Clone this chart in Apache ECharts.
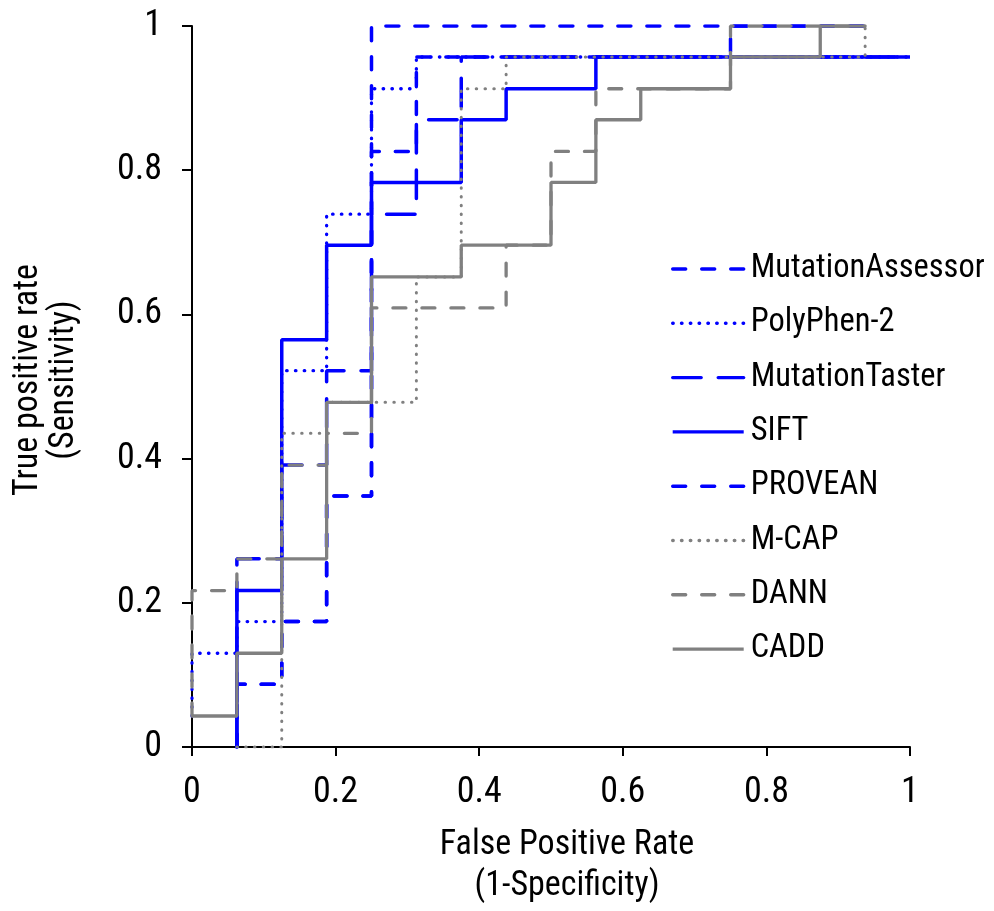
<!DOCTYPE html>
<html>
<head>
<meta charset="utf-8">
<script src="https://cdn.jsdelivr.net/npm/echarts@6/dist/echarts.min.js"></script>
<style>
  html, body { margin: 0; padding: 0; background: #fff; }
  #chart { width: 994px; height: 911px; }
</style>
</head>
<body>
<div id="chart"></div>
<script>
// ROC curves (fpr = x, tpr = y)
const seriesNames = ['MutationAssessor', 'PolyPhen-2', 'MutationTaster', 'SIFT', 'PROVEAN', 'M-CAP', 'DANN', 'CADD'];

const maFpr = [0.0625, 0.0625, 0.125, 0.125, 0.1875, 0.1875, 0.25, 0.25, 0.9375];
const maTpr = [0, 0.087, 0.087, 0.174, 0.174, 0.348, 0.348, 1, 1];

const ppFpr = [0, 0, 0.0625, 0.0625, 0.125, 0.125, 0.1875, 0.1875, 0.25, 0.25, 0.3125, 0.3125, 1];
const ppTpr = [0.043, 0.130, 0.130, 0.174, 0.174, 0.522, 0.522, 0.739, 0.739, 0.913, 0.913, 0.957, 0.957];

const mtFpr = [0.0625, 0.0625, 0.125, 0.125, 0.1875, 0.1875, 0.25, 0.25, 0.3125, 0.3125, 0.375, 0.375, 1];
const mtTpr = [0, 0.261, 0.261, 0.391, 0.391, 0.522, 0.522, 0.739, 0.739, 0.870, 0.870, 0.957, 0.957];

const siftFpr = [0.0625, 0.0625, 0.125, 0.125, 0.1875, 0.1875, 0.25, 0.25, 0.375, 0.375, 0.4375, 0.4375, 0.5625, 0.5625, 1];
const siftTpr = [0, 0.217, 0.217, 0.565, 0.565, 0.696, 0.696, 0.783, 0.783, 0.870, 0.870, 0.913, 0.913, 0.957, 0.957];

const provFpr = [0.0625, 0.0625, 0.125, 0.125, 0.1875, 0.1875, 0.25, 0.25, 0.3125, 0.3125, 0.75, 0.75, 0.9375];
const provTpr = [0, 0.087, 0.087, 0.174, 0.174, 0.348, 0.348, 0.826, 0.826, 0.957, 0.957, 1, 1];

const mcapFpr = [0.0625, 0.125, 0.125, 0.1875, 0.1875, 0.3125, 0.3125, 0.375, 0.375, 0.4375, 0.4375, 0.9375, 0.9375];
const mcapTpr = [0, 0, 0.435, 0.435, 0.478, 0.478, 0.652, 0.652, 0.913, 0.913, 0.957, 0.957, 1];

const dannFpr = [0, 0, 0.0625, 0.0625, 0.125, 0.125, 0.1875, 0.1875, 0.25, 0.25, 0.4375, 0.4375, 0.5, 0.5, 0.5625, 0.5625, 0.75, 0.75, 0.9375];
const dannTpr = [0.043, 0.217, 0.217, 0.261, 0.261, 0.391, 0.391, 0.435, 0.435, 0.609, 0.609, 0.696, 0.696, 0.826, 0.826, 0.913, 0.913, 1, 1];

const caddFpr = [0, 0.0625, 0.0625, 0.125, 0.125, 0.1875, 0.1875, 0.25, 0.25, 0.375, 0.375, 0.5, 0.5, 0.5625, 0.5625, 0.625, 0.625, 0.75, 0.75, 0.875, 0.875, 0.9375];
const caddTpr = [0.043, 0.043, 0.130, 0.130, 0.261, 0.261, 0.478, 0.478, 0.652, 0.652, 0.696, 0.696, 0.783, 0.783, 0.870, 0.870, 0.913, 0.913, 0.957, 0.957, 1, 1];

const BLUE = '#0000ff';
const GRAY = '#808080';

// the original uses a narrow font; take one if installed, else squeeze sizes
const ctx = document.createElement('canvas').getContext('2d');
function textWidth(font, s) { ctx.font = font; return ctx.measureText(s).width; }
function hasFont(name) {
  const s = 'MutationAssessor 0.8';
  return textWidth("72px '" + name + "', monospace", s) !== textWidth('72px monospace', s);
}
const narrow = ['Liberation Sans Narrow', 'Arial Narrow', 'Nimbus Sans Narrow', 'Roboto Condensed', 'Noto Sans Condensed', 'Open Sans Condensed'].find(hasFont);
const FONT = narrow ? "'" + narrow + "'" : "'Liberation Sans', Arial, sans-serif";
function fitSize(s, target, max) {
  const w = textWidth('100px ' + FONT, s) / 100;
  return Math.min(max, target / w);
}
const legendSize = fitSize('MutationAssessor', 234, 37);
const tickSize = Math.min(36, fitSize('0.8', 42, 36) * 1.08);
const titleSize = 35;
const titleScale = Math.min(1, 232 / textWidth(titleSize + 'px ' + FONT, 'True positive rate'));

function pts(xs, ys) {
  return xs.map((x, i) => [x, ys[i]]);
}

function line(name, xs, ys, color, dash, width) {
  return {
    name: name,
    type: 'line',
    data: pts(xs, ys),
    symbol: 'none',
    animation: false,
    lineStyle: { color: color, width: width, type: dash, cap: dash === 'solid' ? 'butt' : 'round' },
    itemStyle: { color: color }
  };
}

const DOT = [0.5, 8.3];
const DASH = [13, 16];
const LONG = [28.5, 17];

function title(text, x, y, rot) {
  return {
    type: 'text', x: x, y: y, rotation: rot, scaleX: titleScale,
    style: { text: text, font: titleSize + 'px ' + FONT, fill: '#000', align: 'center', verticalAlign: 'middle' }
  };
}

const chart = echarts.init(document.getElementById('chart'), null, { renderer: 'canvas' });

chart.setOption({
  backgroundColor: '#fff',
  animation: false,
  grid: { left: 192, right: 84, top: 26, bottom: 164 },
  legend: {
    orient: 'vertical',
    left: 671,
    top: 251,
    padding: 0,
    itemWidth: 71,
    itemHeight: 2,
    itemGap: 18.3,
    itemStyle: { opacity: 0 },
    lineStyle: { width: 3.4 },
    data: seriesNames,
    textStyle: { fontFamily: FONT, fontSize: legendSize, color: '#000', lineHeight: 36, padding: [0, 0, 0, 2] }
  },
  xAxis: {
    type: 'value',
    min: 0, max: 1, interval: 0.2,
    axisLine: { lineStyle: { color: '#000', width: 2 } },
    axisTick: { show: true, length: 9, lineStyle: { color: '#000', width: 2 } },
    splitLine: { show: false },
    axisLabel: {
      fontFamily: FONT, fontSize: tickSize, color: '#000', margin: 28,
      formatter: v => String(+v.toFixed(1))
    }
  },
  yAxis: {
    type: 'value',
    min: 0, max: 1, interval: 0.2,
    axisLine: { show: true, lineStyle: { color: '#000', width: 2 } },
    axisTick: { show: true, length: 10, lineStyle: { color: '#000', width: 2 } },
    splitLine: { show: false },
    axisLabel: {
      fontFamily: FONT, fontSize: tickSize, color: '#000', margin: 30,
      formatter: v => String(+v.toFixed(1))
    }
  },
  graphic: [
    title('True positive rate', 28, 380, Math.PI / 2),
    title('(Sensitivity)', 64, 380, Math.PI / 2),
    title('False Positive Rate', 567, 845, 0),
    title('(1-Specificity)', 567, 886, 0)
  ],
  series: [
    line('MutationAssessor', maFpr, maTpr, BLUE, DASH, 3.5),
    line('PolyPhen-2', ppFpr, ppTpr, BLUE, DOT, 3.3),
    line('MutationTaster', mtFpr, mtTpr, BLUE, LONG, 3.5),
    line('SIFT', siftFpr, siftTpr, BLUE, 'solid', 3.5),
    line('PROVEAN', provFpr, provTpr, BLUE, DASH, 3.5),
    line('M-CAP', mcapFpr, mcapTpr, GRAY, DOT, 3),
    line('DANN', dannFpr, dannTpr, GRAY, DASH, 3.3),
    line('CADD', caddFpr, caddTpr, GRAY, 'solid', 3.3)
  ]
});
</script>
</body>
</html>
